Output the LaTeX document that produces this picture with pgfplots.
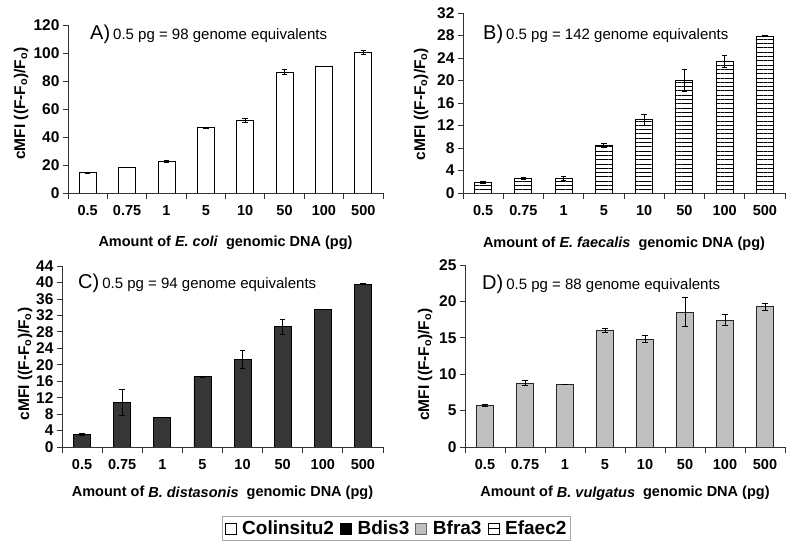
\documentclass[border=0pt]{standalone}
\usepackage{fontspec}
\setmainfont{Liberation Sans}
\usepackage{pgfplots}
\usepackage{pgfplotstable}
\pgfplotsset{compat=1.18}
\usetikzlibrary{patterns.meta}

\definecolor{darkbar}{HTML}{363636}
\definecolor{lightbar}{HTML}{C0C0C0}

\pgfplotstableread{
x y e
0 14.6 0.3
1 18.4 0
2 22.5 0.5
3 46.6 0.4
4 51.8 1.2
5 86.4 2.0
6 90.4 0
7 100.5 1.2
}\dataA
\pgfplotstableread{
x y e
0 1.95 0.2
1 2.65 0.15
2 2.65 0.35
3 8.5 0.35
4 13.0 1.05
5 20.1 1.95
6 23.4 1.0
7 27.9 0.1
}\dataB
\pgfplotstableread{
x y e
0 3.05 0.35
1 10.9 3.1
2 7.2 0
3 17.1 0.1
4 21.3 2.1
5 29.2 1.85
6 33.5 0
7 39.6 0.1
}\dataC
\pgfplotstableread{
x y e
0 5.75 0.15
1 8.8 0.3
2 8.65 0
3 16.05 0.25
4 14.8 0.5
5 18.5 2.0
6 17.4 0.75
7 19.25 0.5
}\dataD

\pgfplotsset{
  panel/.style={
    scale only axis,
    anchor=south west,
    axis lines*=left,
    axis line style={black!80, line width=0.8pt},
    xmin=-0.5, xmax=7.5,
    ymin=0,
    xtick={0,...,7},
    xticklabels={0.5,0.75,1,5,10,50,100,500},
    major x tick style={draw=none},
    minor xtick={-0.5,0.5,...,7.5},
    minor tick length=6pt,
    major tick length=5pt,
    tick align=outside,
    tick style={black!80, line width=0.8pt},
    /pgf/number format/assume math mode=true,
    xticklabel style={font=\bfseries\fontsize{14.5}{16}\selectfont, anchor=base, yshift=-18pt},
    yticklabel style={font=\bfseries\fontsize{15.5}{17}\selectfont},
    xlabel style={font=\bfseries\fontsize{14.5}{16}\selectfont},
    ylabel style={font=\bfseries\fontsize{15.5}{17}\selectfont},
    xlabel style={at={(axis description cs:0.5,0)}, anchor=base},
    ybar, bar width=17pt,
    enlarge x limits=false,
    error bars/y dir=both,
    error bars/y explicit,
    error bars/error bar style={black, line width=0.8pt},
    error bars/error mark options={black, rotate=90, mark size=2.8pt, line width=0.8pt},
  },
}

\begin{document}
\begin{tikzpicture}
\path[use as bounding box] (0pt,0pt) rectangle (800pt,551pt);

% Panel A
\begin{axis}[panel, at={(68pt,358pt)}, width=315pt, height=168pt,
  ymax=120, ytick={0,20,...,120},
  xlabel={Amount of \textit{E. coli}\ \ genomic DNA (pg)},
  xlabel style={yshift=-54pt},
  ylabel={cMFI ((F-F\textsubscript{o})/F\textsubscript{o})},
  ylabel style={at={(axis description cs:0,0.533)}, anchor=center, yshift=47pt},
  ]
\addplot[draw=black, line width=0.8pt, fill=white] table[x=x, y=y, y error=e] {\dataA};
\end{axis}

% Panel B
\begin{axis}[panel, at={(463pt,358pt)}, width=322pt, height=180pt,
  ymax=32, ytick={0,4,...,32},
  xlabel={Amount of \textit{E. faecalis}\ \ genomic DNA (pg)},
  xlabel style={yshift=-55pt},
  ylabel={cMFI ((F-F\textsubscript{o})/F\textsubscript{o})},
  ylabel style={at={(axis description cs:0,0.494)}, anchor=center, yshift=42pt},
  ]
\addplot[draw=black, line width=0.8pt, fill=white, pattern={Lines[angle=0, distance=4.3pt, line width=0.9pt]}] table[x=x, y=y, y error=e] {\dataB};
\end{axis}

% Panel C
\begin{axis}[panel, at={(62pt,104pt)}, width=321pt, height=181pt,
  ymax=44, ytick={0,4,...,44},
  xlabel={Amount of \textit{B. distasonis}\ \ genomic DNA (pg)},
  xlabel style={yshift=-50pt},
  ylabel={cMFI ((F-F\textsubscript{o})/F\textsubscript{o})},
  ylabel style={at={(axis description cs:0,0.459)}, anchor=center, yshift=37pt},
  ]
\addplot[draw=black, line width=0.8pt, fill=darkbar] table[x=x, y=y, y error=e] {\dataC};
\end{axis}

% Panel D
\begin{axis}[panel, at={(465pt,104pt)}, width=320pt, height=182pt,
  ymax=25, ytick={0,5,...,25},
  xlabel={Amount of \textit{B. vulgatus}\ \ genomic DNA (pg)},
  xlabel style={yshift=-50pt},
  ylabel={cMFI ((F-F\textsubscript{o})/F\textsubscript{o})},
  ylabel style={at={(axis description cs:0,0.453)}, anchor=center, yshift=40pt},
  ]
\addplot[draw=black!85, line width=0.8pt, fill=lightbar] table[x=x, y=y, y error=e] {\dataD};
\end{axis}

% Legend
\begin{axis}[at={(0pt,0pt)}, anchor=south west, scale only axis, width=800pt, height=551pt,
  hide axis, xmin=0, xmax=1, ymin=0, ymax=1,
  legend columns=4,
  legend style={at={(0.4956,0.0408)}, anchor=center, draw=black!35, line width=1pt,
    font=\bfseries\fontsize{19}{21}\selectfont, inner sep=2pt,
    /tikz/every odd column/.append style={column sep=4pt},
    /tikz/every even column/.append style={column sep=4pt}},
  ]
\addlegendimage{legend image code/.code={\draw[black, line width=0.6pt, fill=white] (0pt,-5.5pt) rectangle (11pt,5.5pt);}}
\addlegendentry{Colinsitu2}
\addlegendimage{legend image code/.code={\draw[black, line width=0.6pt, fill=black] (0pt,-5.5pt) rectangle (11pt,5.5pt);}}
\addlegendentry{Bdis3}
\addlegendimage{legend image code/.code={\draw[black!60, line width=0.6pt, fill=lightbar] (0pt,-5.5pt) rectangle (11pt,5.5pt);}}
\addlegendentry{Bfra3}
\addlegendimage{legend image code/.code={\draw[black, line width=0.6pt, fill=white] (0pt,-5.5pt) rectangle (11pt,5.5pt); \draw[black, line width=0.6pt] (0pt,0pt) -- (11pt,0pt);}}
\addlegendentry{Efaec2}
\end{axis}

% Panel annotations
\node[anchor=base west, inner sep=0pt] at (90pt,511pt) {\fontsize{20}{22}\selectfont A)\hspace{3pt}\fontsize{15}{17}\selectfont 0.5 pg = 98 genome equivalents};
\node[anchor=base west, inner sep=0pt] at (483pt,511pt) {\fontsize{20}{22}\selectfont B)\hspace{3pt}\fontsize{15}{17}\selectfont 0.5 pg = 142 genome equivalents};
\node[anchor=base west, inner sep=0pt] at (78pt,262pt) {\fontsize{20}{22}\selectfont C)\hspace{3pt}\fontsize{15}{17}\selectfont 0.5 pg = 94 genome equivalents};
\node[anchor=base west, inner sep=0pt] at (482pt,261pt) {\fontsize{20}{22}\selectfont D)\hspace{3pt}\fontsize{15}{17}\selectfont 0.5 pg = 88 genome equivalents};
\end{tikzpicture}
\end{document}
